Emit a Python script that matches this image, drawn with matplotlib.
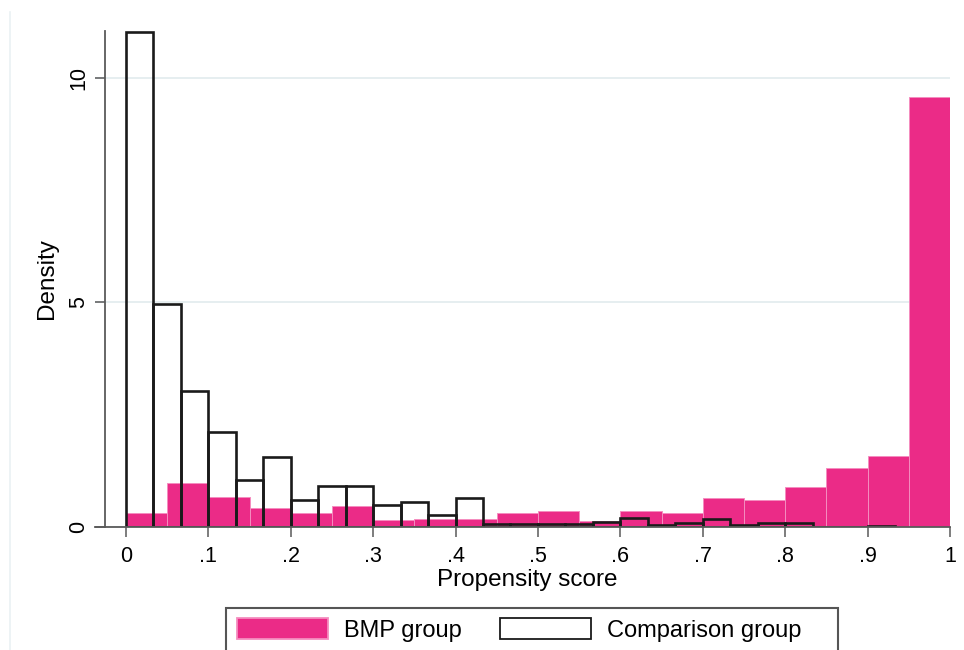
import numpy as np
import matplotlib
matplotlib.use("Agg")
import matplotlib.pyplot as plt
from matplotlib.patches import Rectangle
from matplotlib.lines import Line2D

plt.rcParams['font.family'] = ['Liberation Sans', 'DejaVu Sans']

# histogram densities, BMP group (bins of width 0.05 from 0)
bmp_start = 0.0
bmp_width = 0.05
bmp_density = [0.31, 0.98, 0.67, 0.42, 0.31, 0.46, 0.14, 0.18, 0.18, 0.31,
               0.36, 0.12, 0.36, 0.31, 0.65, 0.60, 0.88, 1.30, 1.58, 9.57]

# histogram densities, comparison group (bins of width 1/30 from 0)
cmp_start = 0.0
cmp_width = 1 / 30
cmp_density = [11.03, 4.96, 3.02, 2.11, 1.05, 1.56, 0.60, 0.91, 0.91, 0.49,
               0.54, 0.25, 0.64, 0.07, 0.06, 0.06, 0.06, 0.10, 0.19, 0.04,
               0.08, 0.17, 0.04, 0.08, 0.08, 0.0, 0.0, 0.02]

xticks = [0, .1, .2, .3, .4, .5, .6, .7, .8, .9, 1]
xtick_labels = ['0', '.1', '.2', '.3', '.4', '.5', '.6', '.7', '.8', '.9', '1']
yticks = [0, 5, 10]
ytick_labels = ['0', '5', '10']

pink = '#EB2B87'
axis_grey = '#5a5a5a'

fig = plt.figure(figsize=(9.64, 6.5), dpi=100)
ax = fig.add_axes([95 / 964, 1 - 526.7 / 650, 855 / 964, (526.7 - 31) / 650])

bmp_left = bmp_start + bmp_width * np.arange(len(bmp_density))
cmp_left = cmp_start + cmp_width * np.arange(len(cmp_density))

bmp_bars = ax.bar(bmp_left, bmp_density, width=bmp_width, align='edge',
                  color=pink, edgecolor='#F48DBF', linewidth=0.7, zorder=2,
                  label='BMP group')
cmp_bars = ax.bar(cmp_left, cmp_density, width=cmp_width, align='edge',
                  facecolor='none', edgecolor='#1a1a1a', linewidth=1.9, zorder=3,
                  label='Comparison group')

ax.set_xlim(-0.0375, 1.0)
ax.set_ylim(0, 11.05)

for side in ['top', 'right']:
    ax.spines[side].set_visible(False)
ax.spines['left'].set_position(('data', -0.0255))
for side in ['left', 'bottom']:
    ax.spines[side].set_color(axis_grey)
    ax.spines[side].set_linewidth(1.3)
    ax.spines[side].set_zorder(4)

ax.set_xticks(xticks)
ax.set_xticklabels(xtick_labels)
ax.set_yticks(yticks)
ax.set_yticklabels(ytick_labels, rotation=90, va='center')
ax.tick_params(axis='both', direction='out', length=7.2, width=1.1,
               color=axis_grey, labelsize=15.5, labelcolor='black')
ax.tick_params(axis='x', pad=7)
ax.tick_params(axis='y', pad=4)

ax.yaxis.grid(True, color='#E6EEF0', linewidth=1.4, zorder=0)
ax.set_axisbelow(True)

ax.set_xlabel('Propensity score', fontsize=17.5)
ax.xaxis.set_label_coords(0.505, -0.085)
ax.set_ylabel('Density', fontsize=17.5)
ax.yaxis.set_label_coords(-0.0433, 0.5)

# legend below the plot, frame drawn separately so it runs off the bottom
ax.legend(handles=[bmp_bars, cmp_bars], loc='upper left',
          bbox_to_anchor=(237 / 964, 1 - 618 / 650), bbox_transform=fig.transFigure,
          ncol=2, frameon=False, fontsize=17, borderpad=0, borderaxespad=0,
          handlelength=3.85, handleheight=1.0, handletextpad=0.68,
          columnspacing=1.62)
leg = ax.get_legend()
for h in leg.legend_handles:
    h.set_linewidth(1.3)
leg.legend_handles[0].set_edgecolor('#F48DBF')
leg.legend_handles[1].set_edgecolor('#1a1a1a')

fig.patches.append(Rectangle((226 / 964, 1 - 660 / 650), (838 - 226) / 964, 52 / 650,
                             transform=fig.transFigure, fill=False,
                             edgecolor='#555555', linewidth=1.5))
fig.lines.append(Line2D([10 / 964, 10 / 964], [0, 1 - 12 / 650],
                        transform=fig.transFigure, color='#EAF1F3', linewidth=1.2))

fig.savefig('out.png', dpi=100)
